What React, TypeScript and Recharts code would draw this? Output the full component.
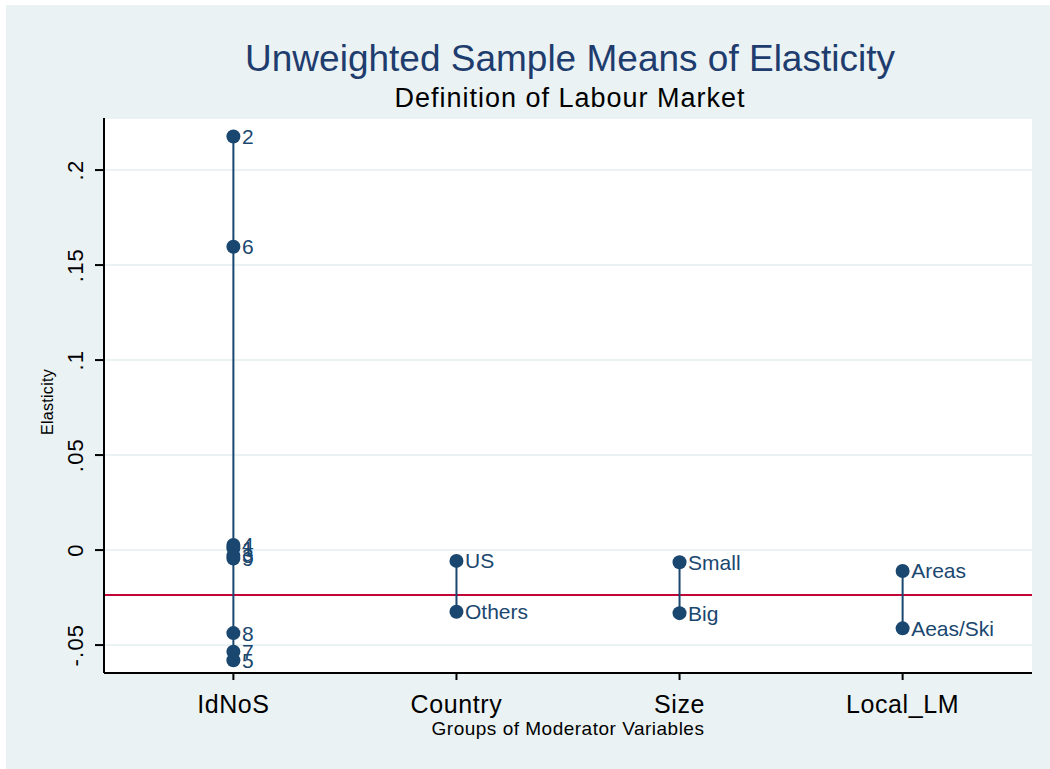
import React from 'react'
import {
  ComposedChart,
  Scatter,
  XAxis,
  YAxis,
  ZAxis,
  CartesianGrid,
  ReferenceLine,
  LabelList,
  Label,
} from 'recharts'

const groupNames = ['IdNoS', 'Country', 'Size', 'Local_LM']

const idnosLabels = ['1', '2', '3', '4', '5', '6', '7', '8', '9']
const idnosValues = [0.001, 0.2177, -0.003, 0.0027, -0.058, 0.1596, -0.0535, -0.0437, -0.0045]

const countryLabels = ['US', 'Others']
const countryValues = [-0.0057, -0.0325]

const sizeLabels = ['Small', 'Big']
const sizeValues = [-0.0064, -0.0332]

const localLabels = ['Areas', 'Aeas/Ski']
const localValues = [-0.011, -0.0412]

const overallMean = -0.0237

const yTicks = [-0.05, 0, 0.05, 0.1, 0.15, 0.2]
const xDomain = [0.42, 4.58]

const NAVY = '#1a476f'
const FONT = '"Liberation Sans", Arial, sans-serif'

function toPoints(pos: number, labels: string[], values: number[]) {
  return labels
    .map((label, i) => ({ x: pos, y: values[i], label }))
    .sort((a, b) => b.y - a.y)
}

const groups = [
  toPoints(1, idnosLabels, idnosValues),
  toPoints(2, countryLabels, countryValues),
  toPoints(3, sizeLabels, sizeValues),
  toPoints(4, localLabels, localValues),
]

function fmtY(v: number) {
  if (v === 0) return '0'
  const s = String(Number(v.toFixed(2)))
  return s.replace('0.', '.')
}

// rotated y tick labels, baseline at a fixed column left of the axis
const YTick = (props: any) => {
  const { y, payload } = props
  const x = 77
  return (
    <text
      x={x}
      y={y}
      transform={`rotate(-90, ${x}, ${y})`}
      textAnchor="middle"
      fontSize={22}
      letterSpacing={1.2}
      fill="#000"
      fontFamily={FONT}
    >
      {fmtY(payload.value)}
    </text>
  )
}

const XTick = (props: any) => {
  const { x, payload } = props
  return (
    <text x={x} y={708} textAnchor="middle" fontSize={25} letterSpacing={0.6} fill="#000" fontFamily={FONT}>
      {groupNames[payload.value - 1]}
    </text>
  )
}

const Dot = (props: any) => <circle cx={props.cx} cy={props.cy} r={7} fill={NAVY} />

export default function App() {
  return (
    <div
      style={{
        position: 'absolute',
        left: 6,
        top: 5,
        width: 1044,
        height: 764,
        background: '#eaf2f3',
        fontFamily: FONT,
      }}
    >
      <div
        style={{
          position: 'absolute',
          left: 98,
          top: 113,
          width: 928,
          height: 555,
          background: '#fff',
        }}
      />
      <svg width={1044} height={110} style={{ position: 'absolute', left: 0, top: 0 }}>
        <text x={564} y={66} textAnchor="middle" fontSize={37} fill="#1e3c6e" fontFamily={FONT}>
          Unweighted Sample Means of Elasticity
        </text>
        <text x={564} y={102} textAnchor="middle" fontSize={27} letterSpacing={1} fill="#000" fontFamily={FONT}>
          Definition of Labour Market
        </text>
      </svg>
      <ComposedChart
        width={1026}
        height={764}
        margin={{ top: 113, right: 0, left: 0, bottom: 0 }}
        style={{ position: 'absolute', left: 0, top: 0, overflow: 'hidden' }}
      >
        <CartesianGrid vertical={false} stroke="#eaf2f3" strokeWidth={2} />
        <XAxis
          type="number"
          dataKey="x"
          domain={xDomain}
          ticks={[1, 2, 3, 4]}
          allowDataOverflow
          height={96}
          tickSize={7}
          tick={<XTick />}
          axisLine={{ stroke: '#000', strokeWidth: 2 }}
          tickLine={{ stroke: '#000', strokeWidth: 2 }}
        >
          <Label
            content={() => (
              <text
                x={562}
                y={730}
                textAnchor="middle"
                fontSize={19}
                letterSpacing={0.5}
                fill="#000"
                fontFamily={FONT}
              >
                Groups of Moderator Variables
              </text>
            )}
          />
        </XAxis>
        <YAxis
          type="number"
          dataKey="y"
          domain={[-0.0647, 0.2274]}
          ticks={yTicks}
          allowDataOverflow
          width={98}
          tickSize={9}
          tick={<YTick />}
          axisLine={{ stroke: '#000', strokeWidth: 2 }}
          tickLine={{ stroke: '#000', strokeWidth: 2 }}
        >
          <Label
            content={() => (
              <text
                x={47}
                y={397}
                transform="rotate(-90, 47, 397)"
                textAnchor="middle"
                fontSize={16}
                letterSpacing={0.3}
                fill="#000"
                fontFamily={FONT}
              >
                Elasticity
              </text>
            )}
          />
        </YAxis>
        <ZAxis range={[154, 154]} />
        <ReferenceLine y={overallMean} ifOverflow="hidden" stroke="#c10534" strokeWidth={2} />
        {groups.map((g, i) => (
          <Scatter
            key={i}
            data={g}
            shape={<Dot />}
            line={{ stroke: NAVY, strokeWidth: 2 }}
            fill={NAVY}
            isAnimationActive={false}
          >
            <LabelList
              dataKey="label"
              position="right"
              offset={4}
              fill={NAVY}
              fontSize={21}
              fontFamily={FONT}
            />
          </Scatter>
        ))}
      </ComposedChart>
    </div>
  )
}
